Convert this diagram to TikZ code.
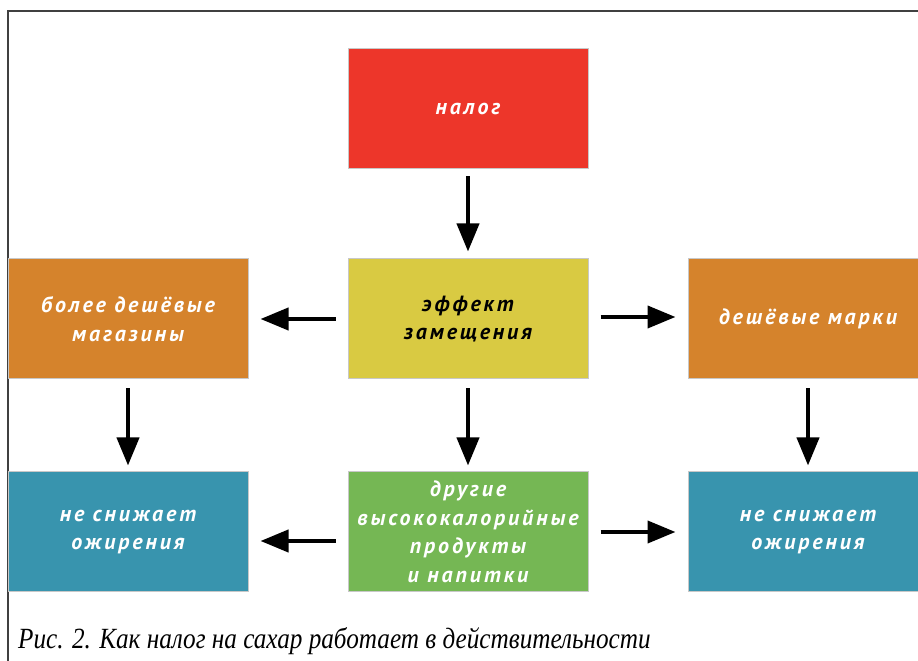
\documentclass[tikz,border=0pt]{standalone}
\usepackage{fontspec}
\setmainfont{Liberation Serif}
\newfontfamily\boxfont[LetterSpace=13]{PT Sans}
\newfontfamily\capfont[FakeStretch=0.86]{Liberation Serif}
\usetikzlibrary{arrows.meta,positioning}
\definecolor{taxR}{RGB}{237,54,42}
\definecolor{substY}{RGB}{217,202,66}
\definecolor{cheapO}{RGB}{213,131,44}
\definecolor{obesT}{RGB}{56,148,174}
\definecolor{otherG}{RGB}{117,183,84}
\definecolor{edgeG}{RGB}{200,200,200}
\tikzset{
    block/.style = {draw=edgeG, line width=1pt, text=white,
            minimum width=240pt, minimum height=120pt,
            align=center, inner sep=2pt,
            font=\boxfont\bfseries\itshape\fontsize{22}{28.5}\selectfont},
    line/.style  = {-{Triangle[length=28pt,width=22pt]}, line width=4pt, black,
            shorten >=7pt, shorten <=7pt},
    sideline/.style = {line, shorten >=12pt, shorten <=12pt},
}

\begin{document}
\begin{tikzpicture}[x=1pt,y=1pt]
    \useasboundingbox (0,0) rectangle (918,661);
    \clip (0,0) rectangle (918,661);
    % frame
    \draw[line width=2pt, black!75] (8,0) -- (8,650) -- (920,650);

    % boxes
    \node[block, fill=substY, text=black] (subst) at (468,342) {эффект\\замещения};
    \node[block, fill=taxR, above=89pt of subst] (tax) {налог};
    \node[block, fill=cheapO, left=99pt of subst] (shops) {более дешёвые\\магазины};
    \node[block, fill=cheapO, right=99pt of subst] (brands) {дешёвые марки};
    \node[block, fill=otherG, below=92pt of subst] (other)
        {другие\\высококалорийные\\продукты\\и напитки};
    \node[block, fill=obesT, below=92pt of shops] (obesL) {не снижает\\ожирения};
    \node[block, fill=obesT, below=92pt of brands] (obesR) {не снижает\\ожирения};

    % arrows
    \draw[line] (tax) -- (subst);
    \draw[sideline] (subst) -- (shops);
    \draw[sideline] ([yshift=2pt]subst.east) -- ([yshift=2pt]brands.west);
    \draw[line, shorten >=6pt, shorten <=9pt] (shops) -- (obesL);
    \draw[line, shorten >=6pt, shorten <=9pt] (subst) -- (other);
    \draw[line, shorten >=6pt, shorten <=9pt] (brands) -- (obesR);
    \draw[sideline] ([yshift=-9pt]other.west) -- ([yshift=-9pt]obesL.east);
    \draw[sideline] (other) -- (obesR);

    % caption
    \node[anchor=base west, inner sep=0pt,
          font=\capfont\itshape\fontsize{29.3}{32}\selectfont] (caption) at (18,12)
        {Рис. 2. Как налог на сахар работает в действительности};
\end{tikzpicture}
\end{document}
